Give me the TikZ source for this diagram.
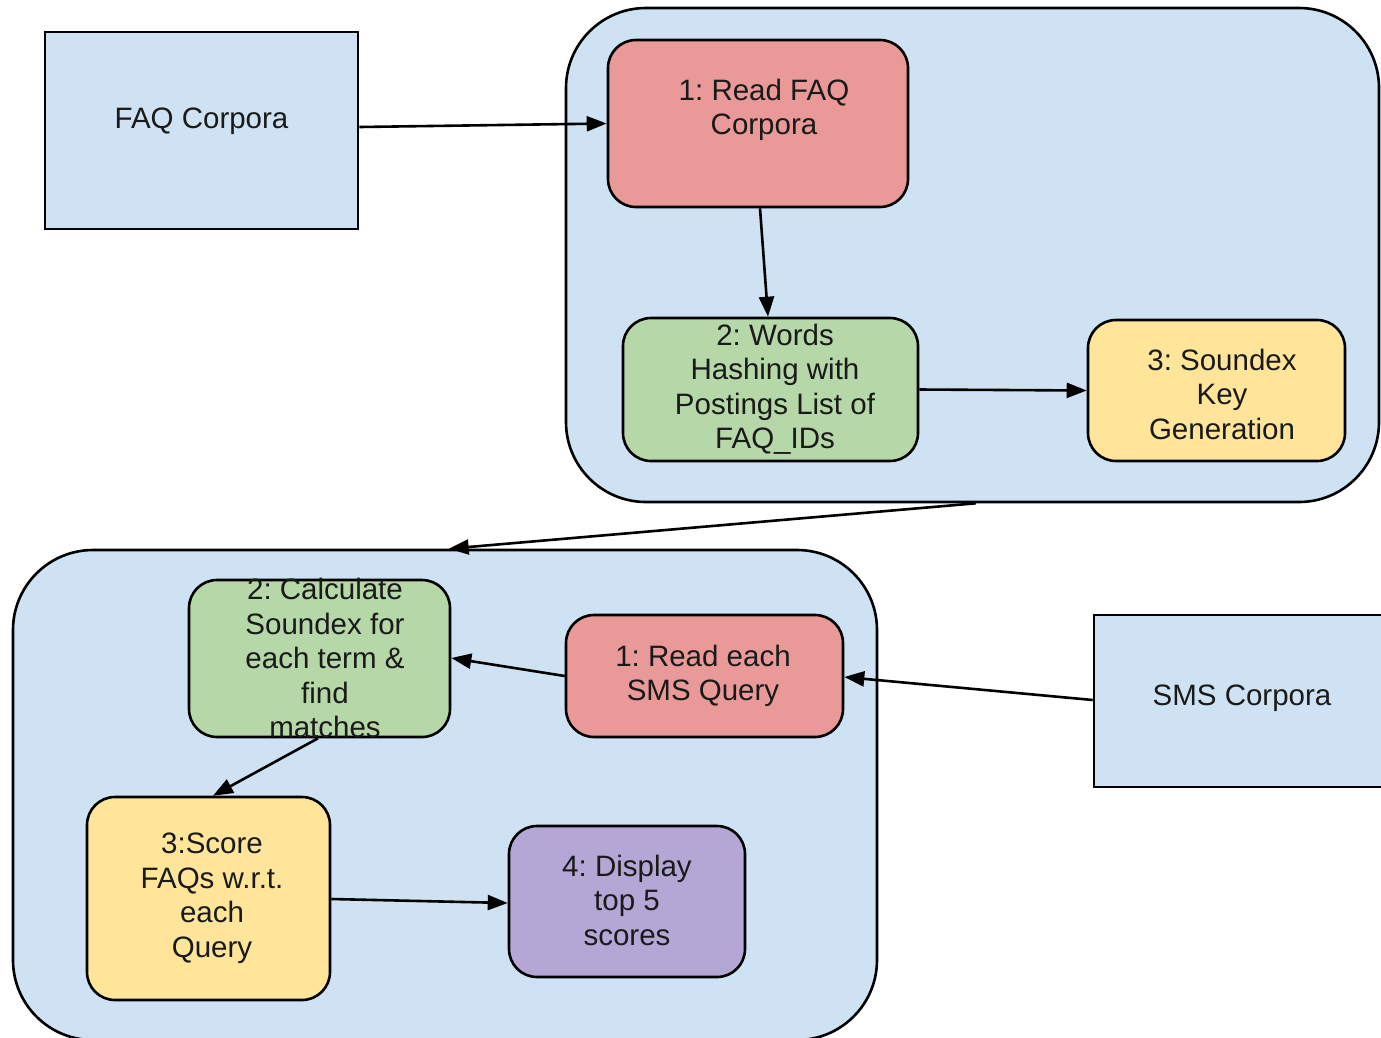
\documentclass[tikz,border=0pt]{standalone}
\usepackage{fontspec}
\setmainfont{Liberation Sans}
\usetikzlibrary{arrows.meta,calc}
\frenchspacing
\definecolor{cblue}{HTML}{CFE2F3}
\definecolor{cred}{HTML}{EA9999}
\definecolor{cgreen}{HTML}{B6D7A8}
\definecolor{cyellow}{HTML}{FFE599}
\definecolor{cpurple}{HTML}{B4A7D6}
\definecolor{ctext}{HTML}{1A1A1A}
\tikzset{
  container/.style={draw=black, line width=2.6pt, fill=cblue, rounded corners=80pt, inner sep=0pt},
  plainbox/.style={draw=black, line width=2.6pt, fill=cblue, inner sep=0pt},
  stepbox/.style={draw=black, line width=2.6pt, rounded corners=28pt, inner sep=0pt},
  txt/.style={align=center, text=ctext, font=\frenchspacing\fontsize{29.5}{34.5}\selectfont, inner sep=0pt, yshift=-3pt},
  arr/.style={line width=2.6pt, -{Triangle[length=20pt,width=15pt]}}
}
\begin{document}
\begin{tikzpicture}[x=1pt,y=-1pt]
\clip (0,0) rectangle (1381,1037);
\fill[white] (0,0) rectangle (1381,1037);
% containers
\node[container, minimum width=813, minimum height=494] (upc) at (972.5,255) {};
\node[container, minimum width=864, minimum height=490] (lowc) at (445,795) {};
% source boxes
\node[plainbox, minimum width=313, minimum height=197] (faq) at (201.5,130.5) {};
\node[txt] at (201.5,118) {FAQ Corpora};
\node[plainbox, minimum width=300, minimum height=172] (sms) at (1244,701) {};
\node[txt] at (1242,695) {SMS Corpora};
% upper steps
\node[stepbox, fill=cred, minimum width=300, minimum height=167] (rfaq) at (758,123.5) {};
\node[txt] at (764,107) {1: Read FAQ\\Corpora};
\node[stepbox, fill=cgreen, minimum width=295, minimum height=143] (words) at (770.5,389.5) {};
\node[txt] at (775,386) {2: Words\\Hashing with\\Postings List of\\FAQ\_IDs};
\node[stepbox, fill=cyellow, minimum width=257, minimum height=141] (sndx) at (1216.5,390.5) {};
\node[txt] at (1222,391) {3: Soundex\\Key\\Generation};
% lower steps
\node[stepbox, fill=cred, minimum width=277, minimum height=122] (rsms) at (704.5,676) {};
\node[txt] at (703,673) {1: Read each\\SMS Query};
\node[stepbox, fill=cgreen, minimum width=261, minimum height=157] (calc) at (319.5,658.5) {};
\node[txt] at (325,655) {2: Calculate\\Soundex for\\each term \&\\find\\matches};
\node[stepbox, fill=cyellow, minimum width=243, minimum height=203] (score) at (208.5,898.5) {};
\node[txt] at (212,895) {3:Score\\FAQs w.r.t.\\each\\Query};
\node[stepbox, fill=cpurple, minimum width=236, minimum height=151] (disp) at (627,901.5) {};
\node[txt] at (627,897) {4: Display\\top 5\\scores};
% connectors
\draw[arr] ([yshift=3.5pt]faq.east) -- (rfaq.west);
\draw[arr] ([xshift=2pt]rfaq.south) -- ([xshift=-2.5pt]words.north);
\draw[arr] (words.east) -- (sndx.east -| sndx.west);
\draw[arr] ([xshift=411pt]upc.south west) -- ([xshift=437pt]lowc.north west);
\draw[arr] ([yshift=1pt]sms.west) -- ([yshift=-1pt]rsms.east);
\draw[arr] (rsms.west) -- ([yshift=0.5pt]calc.east);
\draw[arr] ([xshift=-1.5pt]calc.south) -- ([xshift=4.5pt]score.north);
\draw[arr] ([yshift=-0.5pt]score.east) -- ([yshift=-1.5pt]disp.west);
\end{tikzpicture}
\end{document}
